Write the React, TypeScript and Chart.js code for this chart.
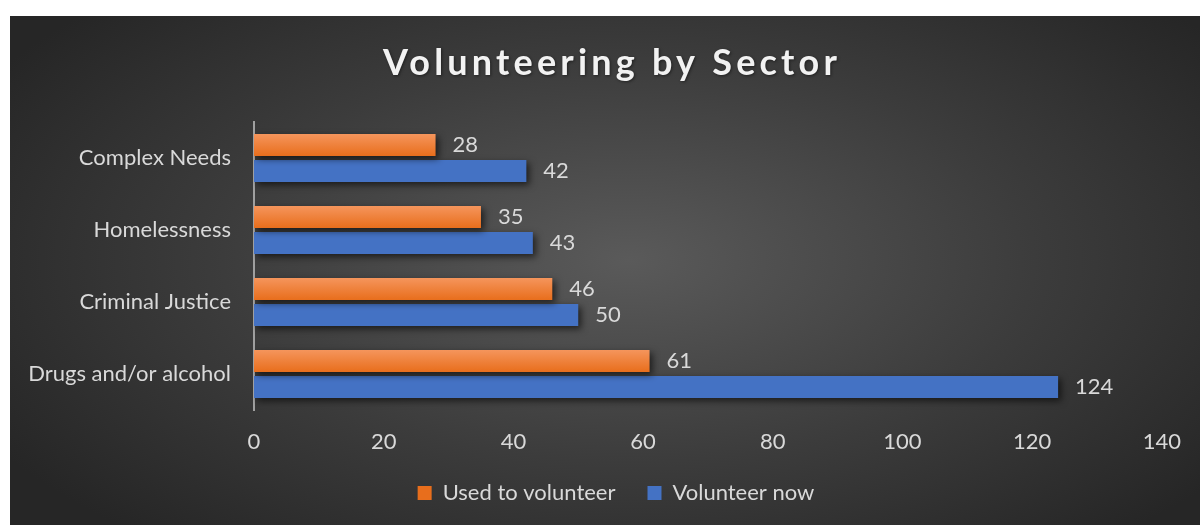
import React, { useEffect, useRef } from "react";
import { Chart, registerables } from "chart.js";

Chart.register(...registerables);

const chartTitle = "Volunteering by Sector";
const categories = ["Complex Needs", "Homelessness", "Criminal Justice", "Drugs and/or alcohol"];
const seriesNames = ["Used to volunteer", "Volunteer now"];
const usedToVolunteer = [28, 35, 46, 61];
const volunteerNow = [42, 43, 50, 124];
const xTicks = [0, 20, 40, 60, 80, 100, 120, 140];

const CAT_PCT = 0.722;
const BAR_PCT = 0.846;
const FONT = "Lato, 'Open Sans', sans-serif";
const TEXT = "#D9D9D9";
const LEGEND_SHIFT = 56;

const orangeFill = (ctx: any) => {
  const chart = ctx.chart;
  const y = chart.scales && chart.scales.y;
  if (ctx.type !== "data" || !y || !chart.chartArea) return "#ED7D31";
  const c = y.getPixelForValue(ctx.dataIndex);
  const cat = y.height / categories.length;
  const group = cat * CAT_PCT;
  const slot = group / 2;
  const bar = slot * BAR_PCT;
  const top = c - group / 2 + (slot - bar) / 2;
  const g = chart.ctx.createLinearGradient(0, top, 0, top + bar);
  g.addColorStop(0, "#F5955C");
  g.addColorStop(1, "#E86E1C");
  return g;
};

const shadowPlugin = {
  id: "barShadow",
  beforeDatasetsDraw(chart: any) {
    const c = chart.ctx;
    c.save();
    c.shadowColor = "rgba(0,0,0,0.6)";
    c.shadowBlur = 7;
    c.shadowOffsetX = 3;
    c.shadowOffsetY = 3;
  },
  afterDatasetsDraw(chart: any) {
    chart.ctx.restore();
  },
};

const legendShiftPlugin = {
  id: "legendShift",
  afterLayout(chart: any) {
    if (chart.legend) {
      chart.legend.left += LEGEND_SHIFT;
    }
  },
};

const labelsPlugin = {
  id: "valueLabels",
  afterDraw(chart: any) {
    const ctx = chart.ctx;
    ctx.save();
    ctx.font = `22px ${FONT}`;
    ctx.fillStyle = TEXT;
    ctx.textBaseline = "middle";
    ctx.textAlign = "left";
    chart.data.datasets.forEach((ds: any, i: number) => {
      const meta = chart.getDatasetMeta(i);
      meta.data.forEach((el: any, j: number) => {
        ctx.fillText(String(ds.data[j]), el.x + 17, el.y);
      });
    });
    ctx.restore();
  },
};

const titlePlugin = {
  id: "customTitle",
  afterDraw(chart: any) {
    const ctx = chart.ctx;
    ctx.save();
    ctx.font = `bold 36px ${FONT}`;
    (ctx as any).letterSpacing = "4.2px";
    ctx.fillStyle = "#F2F2F2";
    ctx.textAlign = "center";
    ctx.textBaseline = "alphabetic";
    ctx.shadowColor = "rgba(0,0,0,0.45)";
    ctx.shadowBlur = 3;
    ctx.shadowOffsetX = 1;
    ctx.shadowOffsetY = 1;
    ctx.fillText(chartTitle, 602, 59);
    ctx.restore();
  },
};

export default function App() {
  const canvasRef = useRef<HTMLCanvasElement | null>(null);

  useEffect(() => {
    if (!canvasRef.current) return;
    Chart.defaults.font.family = FONT;
    const chart = new Chart(canvasRef.current, {
      type: "bar",
      data: {
        labels: categories,
        datasets: [
          {
            label: seriesNames[0],
            data: usedToVolunteer,
            backgroundColor: orangeFill as any,
            categoryPercentage: CAT_PCT,
            barPercentage: BAR_PCT,
          },
          {
            label: seriesNames[1],
            data: volunteerNow,
            backgroundColor: "#4472C4",
            categoryPercentage: CAT_PCT,
            barPercentage: BAR_PCT,
          },
        ],
      },
      options: {
        indexAxis: "y",
        animation: false,
        responsive: true,
        maintainAspectRatio: false,
        layout: { padding: { top: 106, right: 34, bottom: 11, left: 0 } },
        plugins: {
          title: { display: false },
          tooltip: { enabled: false },
          legend: {
            position: "bottom",
            labels: {
              boxWidth: 14,
              boxHeight: 14,
              padding: 32,
              color: TEXT,
              font: { size: 22, family: FONT },
            },
          },
        },
        scales: {
          x: {
            min: xTicks[0],
            max: xTicks[xTicks.length - 1],
            grid: { display: false, drawTicks: false },
            border: { display: false },
            ticks: {
              stepSize: xTicks[1] - xTicks[0],
              color: TEXT,
              font: { size: 22, family: FONT },
              padding: 19,
            },
            afterFit(scale: any) {
              scale.height = 40;
            },
          },
          y: {
            grid: { display: false, drawTicks: false },
            border: { display: true, color: "#A0A0A0", width: 2 },
            ticks: {
              color: TEXT,
              font: { size: 22, family: FONT },
              padding: 23,
            },
            afterFit(scale: any) {
              scale.width = 244;
            },
          },
        },
      },
      plugins: [legendShiftPlugin, shadowPlugin, labelsPlugin, titlePlugin],
    });
    return () => chart.destroy();
  }, []);

  return (
    <div
      style={{
        position: "fixed",
        left: 10,
        top: 16,
        width: 1190,
        height: 509,
        background:
          "radial-gradient(ellipse 62% 72% at 52% 48%, #5a5a5a 0%, #3c3c3c 55%, #262626 100%)",
      }}
    >
      <canvas ref={canvasRef} />
    </div>
  );
}
